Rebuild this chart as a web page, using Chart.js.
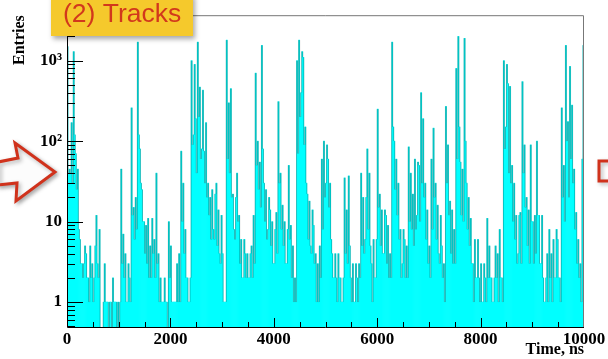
<!DOCTYPE html>
<html>
<head>
<meta charset="utf-8">
<script src="https://cdn.jsdelivr.net/npm/chart.js@4.4.1/dist/chart.umd.min.js"></script>
<style>
  html, body { margin: 0; padding: 0; background: #fff; }
  canvas { display: block; }
</style>
</head>
<body>
<canvas id="c" width="608" height="359"></canvas>
<script>
// time histogram, 500 bins of 20 ns (0 - 10000 ns)
const binWidth = 20;
const entries = [
  // 0 - 1280 ns
  1500, 40, 45, 40, 170, 30, 1300, 120, 70, 25,
  45, 8, 6, 3, 3, 2, 3, 5, 4, 2,
  2, 1, 5, 2, 3, 1, 2, 5, 12, 3,
  2, 8, 0, 0, 0, 1, 3, 1, 1, 1,
  0, 1, 1, 0, 2, 1, 1, 1, 0, 1,
  0, 1, 45, 3, 7, 2, 4, 1, 1, 3,
  2, 1, 260, 12, 15, 6, 20, 8, 1700, 120,
  80, 30, 25, 10, 10, 4, 9, 3, 11, 2,
  5, 2, 11, 4, 6, 2, 40, 3, 4, 1,
  2, 1, 1, 1, 2, 1, 1, 0, 10, 2,
  5, 1, 1, 1, 1, 1, 3, 1, 4, 1,
  75, 10, 30, 4, 8, 2, 2, 1, 1, 2,
  1000, 90, 120, 900, 190, 40, 1700, 200,
  // 1280 - 2520 ns
  470, 60, 80, 430, 75, 30, 170, 20, 30, 12,
  20, 6, 25, 8, 6, 22, 30, 5, 14, 4,
  3, 12, 4, 1, 1, 1, 1800, 60, 300, 40,
  450, 20, 22, 8, 6, 20, 40, 10, 12, 3,
  6, 2, 2, 6, 4, 2, 4, 2, 2, 4,
  5, 2, 12, 3, 700, 50, 100, 25, 55, 15,
  1550, 80, 30, 10, 25, 6, 8, 20, 14, 5,
  10, 3, 3, 8, 13, 4, 310, 30, 40, 8,
  16, 5, 10, 3, 3, 8, 50, 6, 9, 2,
  5, 1, 2, 1, 1000, 70, 1800, 200, 400, 1300,
  1100, 90, 150, 30, 22, 6, 18, 5, 4, 14,
  9, 3, 4, 1, 3, 1, 5, 2, 60, 8,
  100, 20, 30, 90, 60, 15,
  // 2520 - 5080 ns
  30, 6, 4, 2, 2, 4, 2, 1, 4, 2,
  2, 1, 1, 2, 35, 4, 14, 3, 37, 5,
  2, 1, 3, 1, 1, 3, 2, 1, 3, 2,
  40, 5, 20, 4, 6, 20, 80, 8, 40, 5,
  3, 1, 6, 2, 2, 6, 250, 15, 22, 5,
  14, 4, 4, 14, 12, 3, 9, 2, 4, 2,
  1700, 150, 100, 25, 60, 12, 30, 6, 8, 2,
  3, 8, 6, 2, 5, 2, 85, 10, 40, 8,
  22, 5, 60, 8, 12, 55, 50, 10, 400, 30,
  190, 20, 30, 6, 14, 3, 5, 2, 60, 8,
  145, 20, 30, 6, 16, 4, 3, 12, 5, 2,
  3, 1, 270, 30, 90, 12, 18, 4, 14, 3,
  8, 3, 800, 60, 2000, 150,
  // 5080 - 10000 ns
  55, 12, 45, 10, 1900, 100, 30, 8, 20, 5,
  11, 3, 3, 1, 6, 2, 2, 6, 2, 1,
  3, 1, 1, 3, 2, 1, 11, 2, 5, 2,
  2, 1, 1, 2, 5, 2, 4, 1, 8, 2,
  2, 1, 1000, 80, 150, 900, 520, 40, 480, 30,
  50, 10, 30, 6, 12, 3, 4, 12, 13, 3,
  550, 40, 90, 15, 20, 5, 14, 3, 90, 10,
  10, 3, 12, 4, 100, 12, 12, 3, 3, 12,
  2, 1, 1, 2, 4, 1, 8, 2, 4, 1,
  6, 2, 2, 8, 6, 2, 2, 1, 260, 20,
  50, 10, 1550, 100, 175, 20, 850, 60, 280, 30,
  45, 8, 13, 3, 6, 2, 3, 1, 60, 1550
];
const xTicks = [0, 2000, 4000, 6000, 8000, 10000];
const xMinorStep = 500;
const yTicks = [1, 10, 100, 1000];
const yTickLabels = ['1', '10', '10\u00b2', '10\u00b3'];

const binCenters = entries.map((_, i) => (i + 0.5) * binWidth);
const counts = entries.map(v => (v > 0 ? v : null));

const serifBold = size => ({ family: "'Liberation Serif', 'DejaVu Serif', serif", weight: 'bold', size: size });

// black histogram outline: only the vertical steps between neighbouring bars
const histOutline = {
  id: 'histOutline',
  afterDatasetsDraw(chart) {
    const { ctx, chartArea: a } = chart;
    const bars = chart.getDatasetMeta(0).data;
    const ys = chart.scales.y;
    const yOf = v => (v > 0 ? ys.getPixelForValue(v) : a.bottom);
    ctx.save();
    ctx.beginPath();
    ctx.rect(a.left, a.top, a.right - a.left, a.bottom - a.top);
    ctx.clip();
    ctx.strokeStyle = 'rgba(0,0,0,0.32)';
    ctx.lineWidth = 0.8;
    ctx.beginPath();
    for (let i = 0; i < entries.length - 1; i++) {
      const x = bars[i].x + bars[i].width / 2;
      const y1 = yOf(entries[i]), y2 = yOf(entries[i + 1]);
      if (y1 === y2) continue;
      ctx.moveTo(x, Math.min(y1, y2));
      ctx.lineTo(x, Math.max(y1, y2));
    }
    ctx.stroke();
    ctx.restore();
  }
};

// ROOT-like frame: inner ticks, gray top/right border, label box and arrows
const rootFrame = {
  id: 'rootFrame',
  afterDatasetsDraw(chart) {
    const { ctx, chartArea: a } = chart;
    const ys = chart.scales.y, xs = chart.scales.xt;
    ctx.save();
    ctx.strokeStyle = '#000';
    ctx.lineWidth = 1;
    ctx.beginPath();
    for (let d = -1; d <= 3; d++) {
      for (let m = 1; m <= 9; m++) {
        const v = m * Math.pow(10, d);
        if (v < ys.min || v > ys.max) continue;
        const y = Math.round(ys.getPixelForValue(v)) + 0.5;
        const len = m === 1 ? 16 : 8;
        ctx.moveTo(a.left, y);
        ctx.lineTo(a.left + len, y);
      }
    }
    for (let v = xMinorStep; v < xs.max; v += xMinorStep) {
      const x = Math.round(xs.getPixelForValue(v)) + 0.5;
      const len = xTicks.includes(v) ? 9 : 5;
      ctx.moveTo(x, a.bottom);
      ctx.lineTo(x, a.bottom - len);
    }
    ctx.stroke();
    ctx.strokeStyle = '#777';
    ctx.beginPath();
    ctx.moveTo(a.left, a.top + 0.5);
    ctx.lineTo(a.right - 0.5, a.top + 0.5);
    ctx.lineTo(a.right - 0.5, a.bottom);
    ctx.stroke();
    ctx.strokeStyle = '#000';
    ctx.beginPath();
    ctx.moveTo(a.left + 0.5, a.top);
    ctx.lineTo(a.left + 0.5, a.bottom + 0.5);
    ctx.lineTo(a.right, a.bottom + 0.5);
    ctx.stroke();
    ctx.restore();
  },
  afterDraw(chart) {
    const { ctx } = chart;
    ctx.save();
    // yellow label box
    ctx.shadowColor = 'rgba(0,0,0,0.35)';
    ctx.shadowBlur = 5;
    ctx.shadowOffsetX = 2;
    ctx.shadowOffsetY = 3;
    ctx.fillStyle = '#f5c92c';
    ctx.fillRect(51, -6, 142, 42);
    ctx.shadowColor = 'transparent';
    ctx.fillStyle = '#d2381c';
    ctx.font = "26.5px 'Liberation Sans', Arial, sans-serif";
    ctx.textBaseline = 'alphabetic';
    ctx.fillText('(2) Tracks', 63, 22);
    // left arrow
    ctx.shadowColor = 'rgba(0,0,0,0.3)';
    ctx.shadowBlur = 4;
    ctx.shadowOffsetX = 2;
    ctx.shadowOffsetY = 2;
    ctx.strokeStyle = '#d0321c';
    ctx.lineWidth = 3;
    ctx.fillStyle = 'rgba(255,255,255,0.95)';
    ctx.beginPath();
    ctx.moveTo(-2, 162);
    ctx.lineTo(18, 158);
    ctx.lineTo(15, 143);
    ctx.lineTo(55, 172);
    ctx.lineTo(16, 201);
    ctx.lineTo(17, 183);
    ctx.lineTo(-2, 185);
    ctx.closePath();
    ctx.fill();
    ctx.stroke();
    // right arrow tail
    ctx.beginPath();
    ctx.moveTo(610, 161);
    ctx.lineTo(599, 161);
    ctx.lineTo(599, 181);
    ctx.lineTo(610, 181);
    ctx.stroke();
    ctx.restore();
  }
};

new Chart(document.getElementById('c'), {
  data: {
    labels: binCenters,
    datasets: [
      {
        type: 'bar',
        data: counts,
        xAxisID: 'x',
        backgroundColor: '#00ffff',
        borderWidth: 0,
        barPercentage: 1,
        categoryPercentage: 1
      }
    ]
  },
  options: {
    responsive: false,
    animation: false,
    events: [],
    layout: { padding: { top: 12, right: 24, left: 0, bottom: 0 } },
    plugins: { legend: { display: false }, tooltip: { enabled: false } },
    scales: {
      x: { type: 'category', display: false, offset: true },
      xt: {
        type: 'linear',
        position: 'bottom',
        min: 0,
        max: 10000,
        afterBuildTicks: s => { s.ticks = xTicks.map(v => ({ value: v })); },
        afterFit: s => { s.height = 32; },
        grid: { drawOnChartArea: false, drawTicks: false },
        border: { display: false },
        ticks: {
          font: serifBold(17),
          color: '#000',
          padding: 2,
          maxRotation: 0,
          autoSkip: false,
          callback: v => String(v)
        },
        title: { display: true, text: 'Time, ns', align: 'end', font: serifBold(16), color: '#000', padding: 0 }
      },
      y: {
        type: 'logarithmic',
        min: 0.49,
        max: 3670,
        afterBuildTicks: s => { s.ticks = yTicks.map(v => ({ value: v })); },
        afterFit: s => { s.width = 67; },
        grid: { drawOnChartArea: false, drawTicks: false },
        border: { display: false },
        ticks: {
          font: serifBold(17),
          color: '#000',
          padding: 5,
          callback: v => yTickLabels[yTicks.indexOf(v)]
        },
        title: { display: true, text: 'Entries', align: 'end', font: serifBold(16), color: '#000', padding: { top: 10 } }
      }
    }
  },
  plugins: [histOutline, rootFrame]
});
</script>
</body>
</html>
